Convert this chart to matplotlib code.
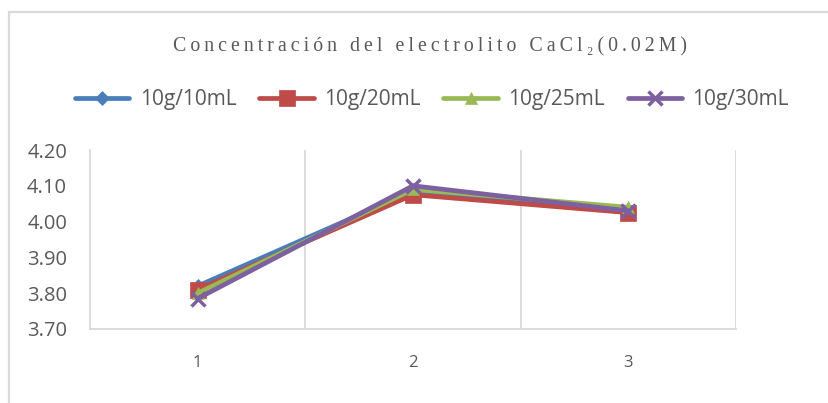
import matplotlib
matplotlib.use("Agg")
import matplotlib.pyplot as plt
from matplotlib.patches import Rectangle

categories = ["1", "2", "3"]
series_names = ["10g/10mL", "10g/20mL", "10g/25mL", "10g/30mL"]
s_10 = [3.82, 4.085, 4.03]
s_20 = [3.81, 4.075, 4.025]
s_25 = [3.80, 4.09, 4.04]
s_30 = [3.785, 4.10, 4.03]
yticks = [3.70, 3.80, 3.90, 4.00, 4.10, 4.20]
title = "Concentración del electrolito CaCl₂(0.02M)"

colors = ["#4a7ebb", "#be4b48", "#98b954", "#7d60a0"]
markers = ["D", "s", "^", "x"]
msizes = [7, 11, 9, 10]

W, H = 829, 403
fig = plt.figure(figsize=(W / 100, H / 100), dpi=100)
fig.patches.append(Rectangle((9 / W, -0.1), 1.2, 1 - 12 / H + 0.1, transform=fig.transFigure,
                             fill=False, edgecolor="#d9d9d9", linewidth=1.6))
ax = fig.add_axes([90 / W, 1 - 329 / H, (736 - 90) / W, (329 - 150) / H])

x = [1, 2, 3]
for vals, name, c, m, ms in zip([s_10, s_20, s_25, s_30], series_names, colors, markers, msizes):
    ax.plot(x, vals, color=c, marker=m, markersize=ms, linewidth=3.4, label=name,
            markeredgewidth=2.5 if m == "x" else 0.5, markeredgecolor=c, solid_capstyle="round")

ax.set_xlim(0.5, 3.5)
ax.set_ylim(3.70, 4.20)
ax.set_yticks(yticks)
ax.set_yticklabels([f"{v:.2f}" for v in yticks])
ax.set_xticks(x)
ax.set_xticklabels(categories)
for b in [1.5, 2.5, 3.5]:
    ax.axvline(b, color="#d9d9d9", linewidth=1.3, zorder=0)
for s in ["top", "right"]:
    ax.spines[s].set_visible(False)
ax.spines["left"].set_color("#d9d9d9")
ax.spines["left"].set_linewidth(1.3)
ax.spines["bottom"].set_color("#d9d9d9")
ax.spines["bottom"].set_linewidth(1.3)
ax.tick_params(axis="y", length=0, pad=16.5, labelsize=14.5, labelcolor="#595959")
ax.tick_params(axis="x", length=0, pad=18.5, labelsize=12, labelcolor="#595959")
for lab in ax.get_yticklabels() + ax.get_xticklabels():
    lab.set_family("Open Sans")

fig.text(430 / W, 1 - 47 / H, "\u2009".join(title).replace("\u2009 \u2009", "\u2009\u2009 "),
         ha="center", va="center", fontsize=14.3, color="#595959",
         family=["Liberation Serif", "DejaVu Serif"])

leg = fig.legend(loc="center", bbox_to_anchor=(432 / W, 1 - 100 / H), ncol=4, frameon=False,
                 handlelength=2.6, handletextpad=0.5, columnspacing=1.1,
                 prop={"family": "Open Sans", "size": 15})
for t in leg.get_texts():
    t.set_color("#595959")

fig.savefig("out.png", dpi=100)
